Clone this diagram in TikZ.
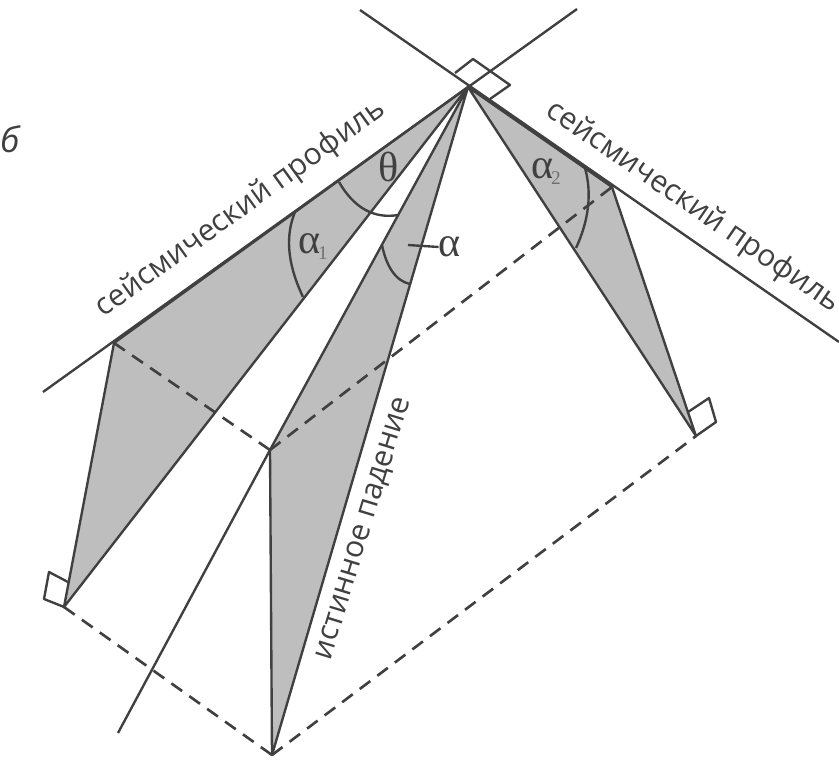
\documentclass[tikz,border=0pt]{standalone}
\usepackage{fontspec}
\setmainfont{Open Sans}
\newfontfamily\grk{Liberation Serif}
\definecolor{ln}{HTML}{404040}
\definecolor{gr}{HTML}{BEBEBE}
\definecolor{sb}{HTML}{707070}
\tikzset{
  ln/.style={draw=ln,line width=1.35pt},
  dsh/.style={draw=ln,line width=1.5pt,dash pattern=on 7.5pt off 5pt},
  wedge/.style={fill=gr,draw=ln,line width=1.35pt,line join=round},
  lab/.style={font=\fontsize{17.2}{17.2}\selectfont,text=ln,inner sep=0pt},
  grl/.style={font=\grk\fontsize{24}{24}\selectfont,text=ln,inner sep=0pt},
  sbs/.style={font=\grk\fontsize{11}{11}\selectfont,text=sb,inner sep=0pt},
  x=0.02cm,y=-0.02cm
}
\begin{document}
\begin{tikzpicture}
\useasboundingbox (0,0) rectangle (839,761);
\coordinate (O) at (468,87);
\coordinate (A) at (114,343);
\coordinate (B) at (64,607);
\coordinate (C) at (270,450);
\coordinate (D) at (272,755);
\coordinate (E) at (612,187);
\coordinate (F) at (696,436);
\coordinate (L1) at (577,9);
\coordinate (L2) at (43,392);
\coordinate (R1) at (360,10);
\coordinate (R2) at (839,342);
\coordinate (T) at (118,733);
% wedges
\path[wedge] (O) -- (A) -- (B) -- cycle;
\path[wedge] (O) -- (C) -- (D) -- cycle;
\path[wedge] (O) -- (E) -- (F) -- cycle;
% lines
\draw[ln] (L1) -- (L2);
\draw[ln] (R1) -- (R2);
\draw[ln] (C) -- (T);
% dashed
\draw[dsh] (A) -- (C);
\draw[dsh] (C) -- (E);
\draw[dsh] (B) -- (D);
\draw[dsh] (D) -- (F);
% right angle marks
\draw[ln,line join=round] (455,73) -- (473,59) -- (510,85) -- (490,99);
\draw[ln,line join=round] (68,582) -- (49,572) -- (44,599) -- (B);
\draw[ln,line join=round] (688,412) -- (709,398) -- (716,422) -- (F);
% angle arcs
\draw[ln] (339,182) .. controls (354,208) and (374,219) .. (398,215);
\draw[ln] (295,212) .. controls (286,234) and (286,261) .. (303,297);
\draw[ln] (382,245) .. controls (386,265) and (395,281) .. (410,284);
\draw[ln] (585,168) .. controls (592,193) and (589,220) .. (576,248);
% alpha tick
\node[grl] (a) at (450,247) {α};
\draw[ln] (408,245) -- (a.west);
% labels
\node[grl] (th) at (389,167) {θ};
\node[grl] (a1) at (310,244) {α};
\node[sbs] (s1) at (323,253) {1};
\node[grl] (a2) at (543,169) {α};
\node[sbs] (s2) at (556,178) {2};
\node[lab,rotate=35.8] (p1) at (241,209) {сейсмический профиль};
\node[lab,rotate=-34.6] (p2) at (693,207) {сейсмический профиль};
\node[lab,rotate=73] (td) at (365,529) {истинное падение};
\node[lab,font=\itshape\fontsize{20}{20}\selectfont] (b) at (10,139) {б};
\end{tikzpicture}
\end{document}
